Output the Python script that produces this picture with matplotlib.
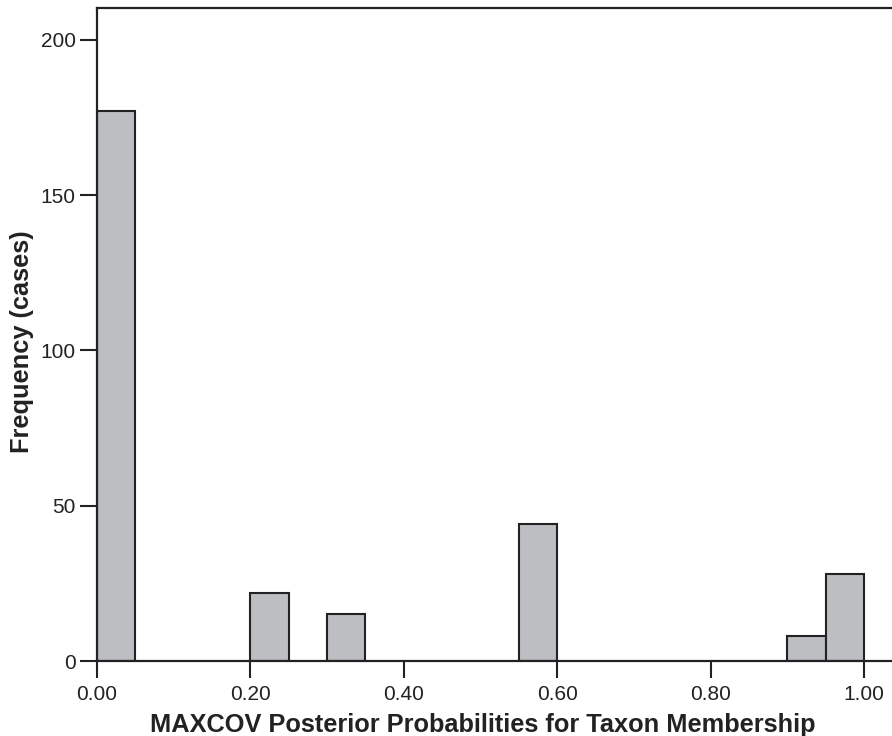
import numpy as np
import matplotlib
matplotlib.use("Agg")
import matplotlib.pyplot as plt

plt.rcParams['font.family'] = ['Liberation Sans', 'DejaVu Sans']

# histogram of posterior probabilities (bin width 0.05)
bin_left = [0.00, 0.20, 0.30, 0.55, 0.90, 0.95]
counts = [177, 22, 15, 44, 8, 28]
bin_width = 0.05

x_ticks = [0.0, 0.2, 0.4, 0.6, 0.8, 1.0]
x_tick_labels = ["0.00", "0.20", "0.40", "0.60", "0.80", "1.00"]
y_ticks = [0, 50, 100, 150, 200]

fig = plt.figure(figsize=(8.92, 7.36), dpi=100)
ax = fig.add_axes([0.1084, 0.1019, 0.8916, 0.887])

ax.bar(bin_left, counts, width=bin_width, align='edge',
       color='#bdbec2', edgecolor='#222222', linewidth=1.5, zorder=2)

ax.set_xlim(0, 1.0365)
ax.set_ylim(0, 210.2)

ax.set_xticks(x_ticks)
ax.set_xticklabels(x_tick_labels)
ax.set_yticks(y_ticks)
ax.tick_params(axis='both', direction='out', length=12, width=1.5,
               color='#222222', labelsize=15, labelcolor='#222222', pad=3)
ax.tick_params(axis='x', pad=5)

for side in ['left', 'top', 'bottom']:
    ax.spines[side].set_linewidth(1.6)
    ax.spines[side].set_color('#222222')
    ax.spines[side].set_zorder(3)
ax.spines['right'].set_visible(False)

ax.set_xlabel('MAXCOV Posterior Probabilities for Taxon Membership',
              fontsize=18.3, fontweight='bold', color='#222222', labelpad=7)
ax.set_ylabel('Frequency (cases)', fontsize=18.3, fontweight='bold',
              color='#222222', labelpad=5)
# axis titles sit a little off the axes centre
ax.xaxis.label.set_x(0.4855)
ax.yaxis.label.set_y(0.4885)

fig.savefig('out.png', dpi=100)
